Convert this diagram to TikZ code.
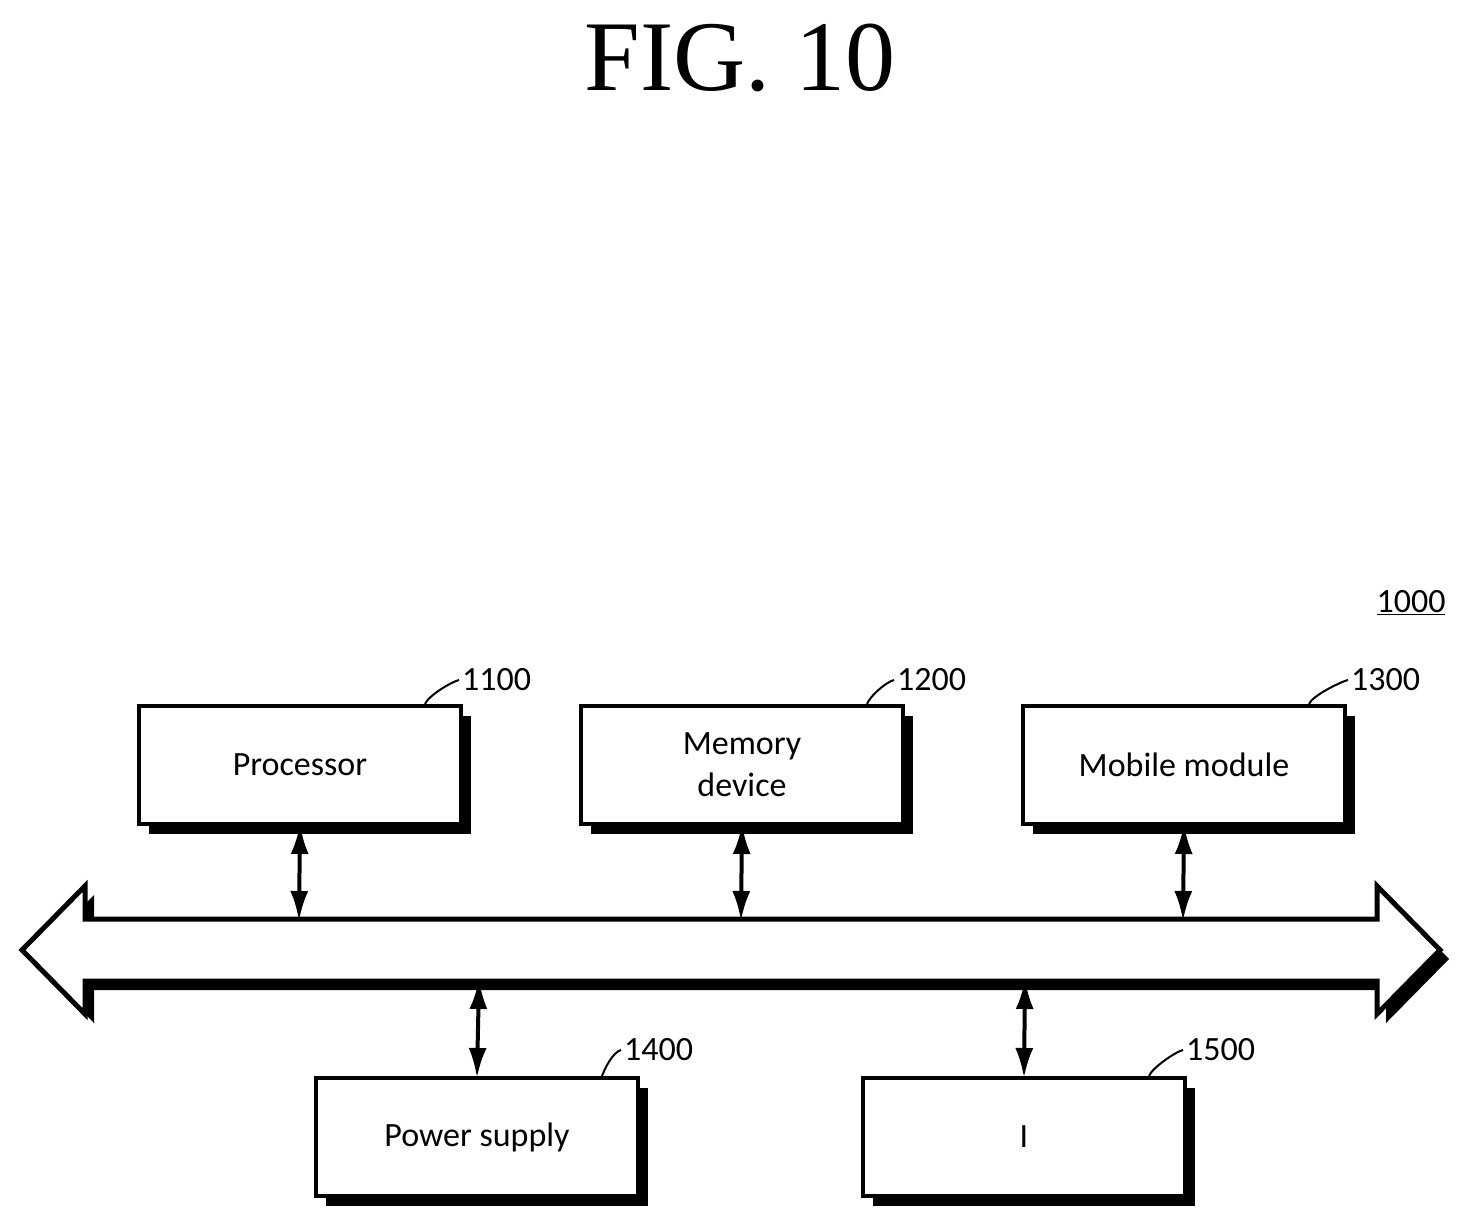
\documentclass[tikz,border=0pt]{standalone}
\usepackage{fontspec}
\setmainfont{Carlito}
\newfontfamily\serif{Liberation Serif}
\usetikzlibrary{arrows.meta}
\begin{document}
\begin{tikzpicture}[x=1pt,y=-1pt,
  box/.style={draw,line width=4pt,fill=white,minimum width=322pt,minimum height=118pt,align=center,font=\fontsize{34}{40}\selectfont,inner sep=0pt},
  lab/.style={font=\fontsize{34}{40}\selectfont,anchor=west,inner sep=0pt},
  dbl/.style={line width=4pt,{Latex[length=30pt,width=18pt]}-{Latex[length=30pt,width=18pt]},shorten <=-2pt,shorten >=-2pt},
  lead/.style={line width=2pt}]
\useasboundingbox (0,0) rectangle (1469,1229);
\node[font=\serif\fontsize{100}{110}\selectfont] (title) at (740,58) {FIG. 10};
\node[lab,anchor=center] (sys) at (1411,603) {\underline{1000}};
% bus
\def\bus{(22,950) -- (85,886) -- (85,919) -- (1377,919) -- (1377,886) -- (1440,950) -- (1377,1014) -- (1377,981) -- (85,981) -- (85,1014) -- cycle}
\fill[black,shift={(9,9)}] \bus;
\draw[line width=5pt,fill=white,line join=miter] \bus;
\coordinate (t1) at (299,919); \coordinate (t2) at (741,919); \coordinate (t3) at (1183,919);
\coordinate (b4) at (479,981); \coordinate (b5) at (1025,981);
% boxes
\foreach \n/\x/\y/\t in {p/300/765/Processor,m/742/765/{Memory\\[2pt]device},mo/1184/765/Mobile module,ps/477/1137/Power supply,io/1024/1137/I/O device}{
  \fill[black] (\x-161+10,\y-59+10) rectangle (\x+161+10,\y+59+10);
  \node[box] (\n) at (\x,\y) {\t};
}
% leaders and labels
\foreach \n/\lx/\ly/\t in {p/462/680/1100,m/897/680/1200,mo/1351/680/1300,ps/624/1050/1400,io/1186/1050/1500}{
  \node[lab] (l\n) at (\lx,\ly) {\t};
  \draw[lead] ([xshift=-38pt]\n.north east) .. controls +(3,-8) and +(-8,2) .. ([xshift=-3pt]l\n.west);
}
\draw[dbl] (p.south) -- (t1);
\draw[dbl] (m.south) -- (t2);
\draw[dbl] (mo.south) -- (t3);
\draw[dbl] (ps.north) -- (b4);
\draw[dbl] (io.north) -- (b5);
\end{tikzpicture}
\end{document}
